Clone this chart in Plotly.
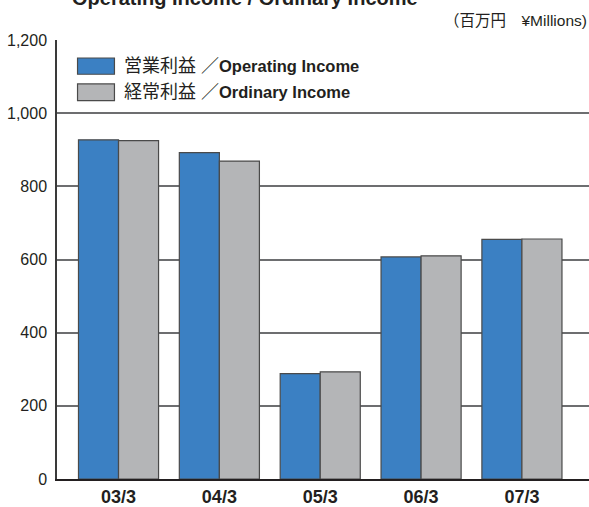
import plotly.graph_objects as go

# 決算期
periods = ['03/3', '04/3', '05/3', '06/3', '07/3']
# 営業利益 / 経常利益 (百万円)
operating_income = [927, 892, 288, 607, 655]
ordinary_income = [925, 869, 293, 610, 656]
series_names = ['営業利益 ／<b>Operating Income</b>', '経常利益 ／<b>Ordinary Income</b>']
y_ticks = [0, 200, 400, 600, 800, 1000, 1200]
y_tick_text = ['0', '200', '400', '600', '800', '1,000', '1,200']

blue = '#3b80c3'
grey = '#b4b5b7'
edge = '#4a4a4a'
txt = '#231f20'
latin = 'Liberation Sans, Arial, sans-serif'
jp = 'Liberation Sans, Noto Sans CJK JP, sans-serif'

fig = go.Figure()
fig.add_trace(go.Bar(x=periods, y=operating_income, name=series_names[0],
                     marker=dict(color=blue, line=dict(color=edge, width=1.2))))
fig.add_trace(go.Bar(x=periods, y=ordinary_income, name=series_names[1],
                     marker=dict(color=grey, line=dict(color=edge, width=1.2))))

fig.update_layout(
    width=589, height=507,
    margin=dict(l=57, r=0, t=40, b=23),
    paper_bgcolor='white', plot_bgcolor='white',
    barmode='group', bargap=0.206, bargroupgap=0,
    showlegend=False,
    font=dict(family=latin, color=txt),
)
fig.update_xaxes(range=[-0.61, 4.665], showline=True, linecolor='#231f20', linewidth=2,
                 ticks='', showgrid=False,
                 tickfont=dict(family=latin, size=18, color=txt, weight='bold'))
fig.update_yaxes(range=[0, 1200], tickvals=y_ticks, ticktext=y_tick_text,
                 showline=True, linecolor='#3a3a3a', linewidth=1.5,
                 showgrid=True, gridcolor='#6d6e70', gridwidth=1.5, zeroline=False,
                 ticks='', ticklabelstandoff=5,
                 tickfont=dict(family=latin, size=16, color=txt))

# 凡例 (手描き)
legend_rows = [(0.959, 0.922, blue), (0.900, 0.862, grey)]
for (y1, y0, col), name in zip(legend_rows, series_names):
    fig.add_shape(type='rect', xref='paper', yref='paper', x0=0.0386, x1=0.108, y0=y0, y1=y1,
                  fillcolor=col, line=dict(color=edge, width=1.2))
    jp_part, en_part = name.split('<b>')
    fig.add_annotation(xref='paper', yref='paper', x=0.122, y=(y0 + y1) / 2,
                       text='<span style="font-size:18px">' + jp_part + '</span><b>' + en_part,
                       showarrow=False, xanchor='left', yanchor='middle',
                       font=dict(family=jp, size=16.5, color=txt))

fig.add_annotation(xref='paper', yref='paper', x=1.0, xanchor='right', y=(484 - 20) / 444,
                   yanchor='middle', text='（百万円　¥Millions)', showarrow=False,
                   font=dict(family='Liberation Sans, Noto Sans CJK JP, sans-serif', size=15.5, color=txt))
fig.add_annotation(xref='paper', yref='paper', x=(70 - 57) / 532, xanchor='left', y=(484 - 11) / 444,
                   yanchor='bottom', text='<b>Operating Income / Ordinary Income</b>', showarrow=False,
                   font=dict(family=latin, size=20, color=txt))

fig.write_html('out.html', config={'displayModeBar': False},
               post_script="document.body.style.margin='0';")
